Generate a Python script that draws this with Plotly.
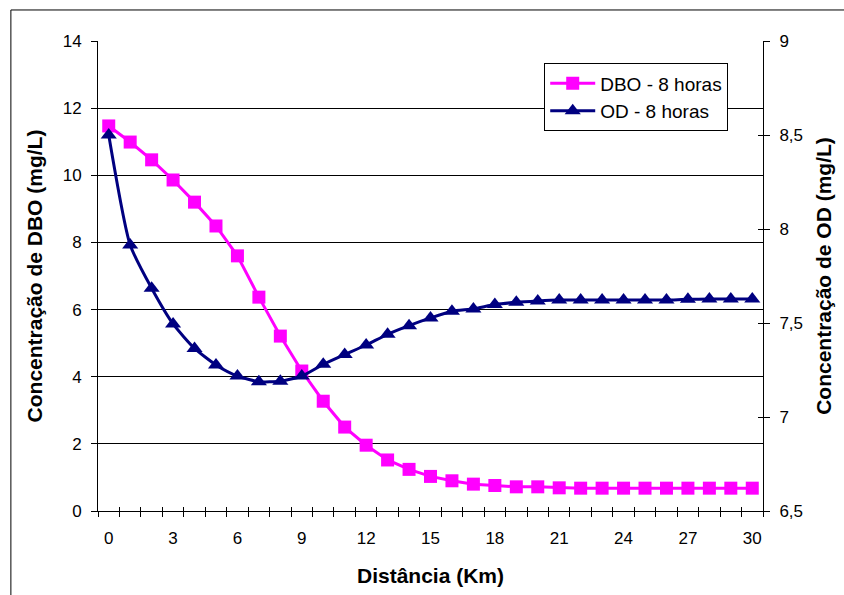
import plotly.graph_objects as go

# Distance along the river (km) and concentrations after 8 hours
distancia = list(range(31))
dbo_8h = [11.47, 10.99, 10.46, 9.86, 9.20, 8.49, 7.60, 6.37, 5.21, 4.17,
          3.27, 2.50, 1.96, 1.52, 1.24, 1.03, 0.90, 0.80, 0.76, 0.72,
          0.72, 0.69, 0.68, 0.68, 0.68, 0.68, 0.68, 0.68, 0.68, 0.68, 0.68]
od_8h = [8.50, 7.915, 7.685, 7.495, 7.365, 7.277, 7.218, 7.188, 7.190, 7.218,
         7.280, 7.332, 7.383, 7.440, 7.486, 7.527, 7.563, 7.575, 7.598, 7.610,
         7.617, 7.622, 7.622, 7.622, 7.622, 7.622, 7.622, 7.626, 7.627, 7.627, 7.627]

x_ticks = list(range(0, 31, 3))
y_left_ticks = list(range(0, 15, 2))
y_right_ticks = [6.5, 7, 7.5, 8, 8.5, 9]
cat_edges = [i - 0.5 for i in range(32)]

FONT = "Liberation Sans, Arial, sans-serif"
X_RANGE = [-0.5, 30.5]
YL_RANGE = [0, 14]
YR_RANGE = [6.5, 9]

fig = go.Figure()

fig.add_trace(go.Scatter(
    x=distancia, y=dbo_8h, name="DBO - 8 horas", mode="lines+markers",
    line=dict(color="#FF00FF", width=3),
    marker=dict(symbol="square", size=13, color="#FF00FF"),
    legendgroup="dbo", yaxis="y"))

fig.add_trace(go.Scatter(
    x=distancia, y=od_8h, name="OD - 8 horas", mode="lines+markers",
    line=dict(color="#000080", width=3, shape="spline", smoothing=0.6),
    marker=dict(symbol="triangle-up", size=14, color="#000080"),
    legendgroup="od", yaxis="y2"))

# empty traces so the overlay axes (inner halves of the cross ticks) are drawn
fig.add_trace(go.Scatter(x=[], y=[], xaxis="x3", yaxis="y", showlegend=False, hoverinfo="skip"))
fig.add_trace(go.Scatter(x=[], y=[], xaxis="x", yaxis="y3", showlegend=False, hoverinfo="skip"))
fig.add_trace(go.Scatter(x=[], y=[], xaxis="x", yaxis="y4", showlegend=False, hoverinfo="skip"))

fig.update_layout(
    width=844, height=595,
    margin=dict(l=98, r=78, t=41, b=84),
    paper_bgcolor="white", plot_bgcolor="white",
    separators=",.",
    font=dict(family=FONT, size=17, color="black"),
    showlegend=True,
    legend=dict(x=0.671, y=0.9526, xanchor="left", yanchor="top",
                bgcolor="white", bordercolor="black", borderwidth=1,
                font=dict(family=FONT, size=19), tracegroupgap=0, itemwidth=45),
    xaxis=dict(
        range=X_RANGE, tickmode="array", tickvals=x_ticks, ticks="",
        showgrid=False, zeroline=False, showline=True, linecolor="black", linewidth=1,
        ticklabelstandoff=12,
        minor=dict(tickmode="array", tickvals=cat_edges, ticks="outside", ticklen=5,
                   tickcolor="black", tickwidth=1, showgrid=False),
        title=dict(text="<b>Distância (Km)</b>", font=dict(size=21), standoff=20),
    ),
    xaxis3=dict(
        range=X_RANGE, overlaying="x", anchor="y", tickmode="array", tickvals=cat_edges,
        ticks="inside", ticklen=4, tickcolor="black", showticklabels=False,
        showgrid=False, zeroline=False, showline=False,
    ),
    yaxis=dict(
        range=YL_RANGE, tickmode="array", tickvals=y_left_ticks, ticks="outside", ticklen=6,
        tickcolor="black", showgrid=True, gridcolor="black", gridwidth=1, zeroline=False,
        showline=True, linecolor="black", linewidth=1, ticklabelstandoff=6,
        title=dict(text="<b>Concentração de DBO (mg/L)</b>", font=dict(size=21), standoff=14),
    ),
    yaxis2=dict(
        range=YR_RANGE, overlaying="y", side="right", anchor="x", tickmode="array",
        tickvals=y_right_ticks, ticks="outside", ticklen=6, tickcolor="black",
        showgrid=False, zeroline=False, showline=True, linecolor="black", linewidth=1,
        ticklabelstandoff=6,
        title=dict(text="<b>Concentração de OD (mg/L)</b>", font=dict(size=21), standoff=14),
    ),
    yaxis3=dict(
        range=YL_RANGE, overlaying="y", side="left", anchor="x", tickmode="array",
        tickvals=y_left_ticks, ticks="inside", ticklen=5, tickcolor="black",
        showticklabels=False, showgrid=False, zeroline=False, showline=False,
    ),
    yaxis4=dict(
        range=YR_RANGE, overlaying="y", side="right", anchor="x", tickmode="array",
        tickvals=y_right_ticks, ticks="inside", ticklen=5, tickcolor="black",
        showticklabels=False, showgrid=False, zeroline=False, showline=False,
    ),
    shapes=[dict(type="rect", xref="paper", yref="paper",
                 x0=-0.131, y0=-0.2, x1=1.3, y1=1.066,
                 line=dict(color="black", width=1), fillcolor="rgba(0,0,0,0)",
                 layer="below")],
)

fig.write_html("out.html")
